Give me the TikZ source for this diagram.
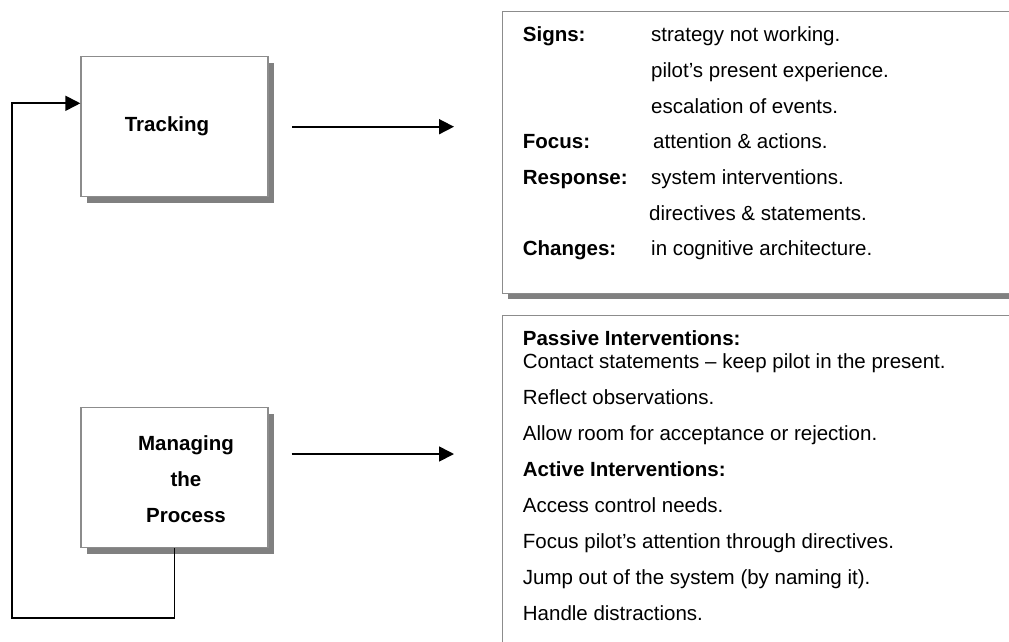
\documentclass[tikz,border=0pt]{standalone}
\usepackage{fontspec}
\setmainfont{Liberation Sans}
\usepackage{tikz}
\usetikzlibrary{arrows.meta,shadows,positioning}
\definecolor{boxgray}{RGB}{140,140,140}
\definecolor{shadegray}{RGB}{128,128,128}

\tikzset{
  stagebox/.style={draw=boxgray, fill=white, line width=1.3pt, minimum width=187pt, minimum height=140pt, inner sep=0pt,
    drop shadow={shadow xshift=6pt, shadow yshift=-6pt, fill=shadegray, opacity=1}},
  notebox/.style={stagebox, anchor=north west, minimum width=530pt},
  stagetext/.style={font=\fontsize{20.5}{36}\selectfont\bfseries, align=center, inner sep=0pt},
  headtext/.style={font=\fontsize{20.5}{24}\selectfont\bfseries, anchor=base west, inner sep=0pt},
  itemtext/.style={font=\fontsize{20.5}{24}\selectfont, anchor=base west, inner sep=0pt},
  flow/.style={->, line width=1.7pt}
}

\begin{document}
\begin{tikzpicture}[x=1pt, y=-1pt, >={Triangle[length=15pt,width=15pt]}]
        \useasboundingbox (0,0) rectangle (1009,641);
        \clip (0,0) rectangle (1009,641);

        % Left stage boxes
        \node[stagebox] (track) at (174.5,126.7) {};
        \node[stagetext] (tracklbl) at (167,126) {Tracking};
        \node[stagebox] (manage) at (174.5,477.5) {};
        \node[stagetext] (managelbl) at (186,479) {Managing\\the\\Process};

        % Feedback loop
        \coordinate (loopbase) at (12,617.7);
        \draw[flow] (manage.south) |- (loopbase) |- ([yshift=23.4pt]track.west);

        % Arrows to the notes
        \coordinate (signsin) at (454,126.7);
        \draw[flow] ([xshift=23.7pt]track.east) -- (signsin);
        \coordinate (intervout) at (291.7,454);
        \coordinate (intervin) at (454,454);
        \draw[flow] (intervout) -- (intervin);

        % Upper notes box
        \node[notebox, minimum height=281.7pt] (signsbox) at (501.7,11) {};
        \node[headtext] (signshd) at (522.7,41.7) {Signs:};
        \node[itemtext] (signs1) at (651,41.7) {strategy not working.};
        \node[itemtext] (signs2) at (651,77.4) {pilot’s present experience.};
        \node[itemtext] (signs3) at (651,113.1) {escalation of events.};
        \node[headtext] (focushd) at (522.7,148.8) {Focus:};
        \node[itemtext] (focus1) at (653,148.8) {attention \& actions.};
        \node[headtext] (resphd) at (522.7,184.5) {Response:};
        \node[itemtext] (resp1) at (651,184.5) {system interventions.};
        \node[itemtext] (resp2) at (649,220.2) {directives \& statements.};
        \node[headtext] (changehd) at (522.7,255.9) {Changes:};
        \node[itemtext] (change1) at (651,255.9) {in cognitive architecture.};

        % Lower notes box
        \node[notebox, minimum height=345pt] (intervbox) at (501.7,315) {};
        \node[headtext] (passhd) at (522.7,345) {Passive Interventions:};
        \node[itemtext] (pass1) at (522.7,368.3) {Contact statements – keep pilot in the present.};
        \node[itemtext] (pass2) at (522.7,404.3) {Reflect observations.};
        \node[itemtext] (pass3) at (522.7,440.3) {Allow room for acceptance or rejection.};
        \node[headtext] (acthd) at (522.7,476.3) {Active Interventions:};
        \node[itemtext] (act1) at (522.7,512.3) {Access control needs.};
        \node[itemtext] (act2) at (522.7,548.3) {Focus pilot’s attention through directives.};
        \node[itemtext] (act3) at (522.7,584.3) {Jump out of the system (by naming it).};
        \node[itemtext] (act4) at (522.7,620.3) {Handle distractions.};
    \end{tikzpicture}
\end{document}
